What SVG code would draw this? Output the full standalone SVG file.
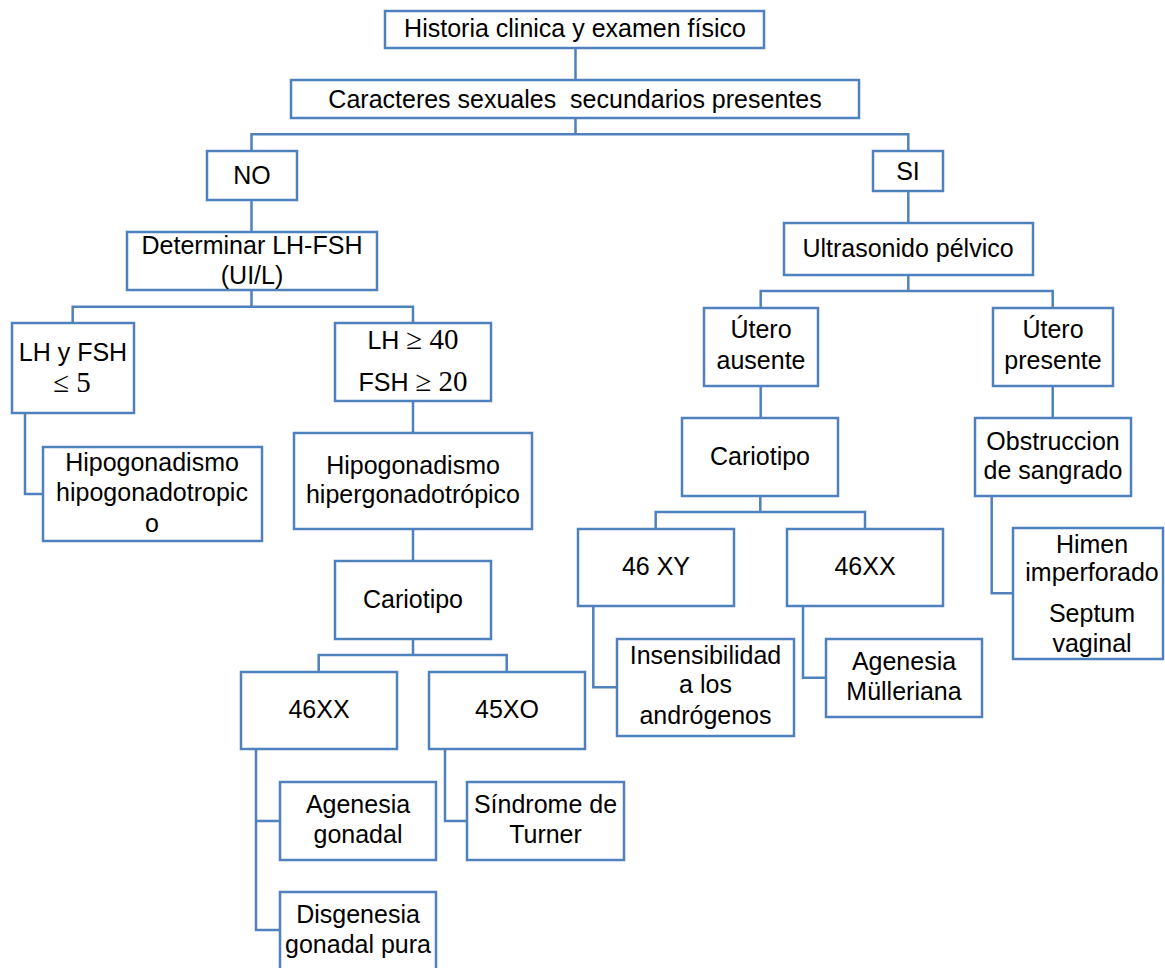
<svg xmlns="http://www.w3.org/2000/svg" width="1165" height="968" viewBox="0 0 1165 968">
<style>
.b{fill:#fff;stroke:#4F81BD;stroke-width:2.5}
.c{fill:none;stroke:#4F81BD;stroke-width:2.5}
.t{font-family:"Liberation Sans",Arial,sans-serif;font-size:25px;fill:#000;text-anchor:middle}
.m{font-family:"Liberation Serif","DejaVu Serif",serif;font-size:29px}
</style>
<rect width="1165" height="968" fill="#fff"/>
<g id="connectors">
<path class="c" d="M575.5 47.7V80"/>
<path class="c" d="M575.5 118.3V134.3M251.5 150.7V134.3H908.3V150.7"/>
<path class="c" d="M251.5 200V231.7"/>
<path class="c" d="M251.5 290V306.7M72.7 322.7V306.7H413V322.7"/>
<path class="c" d="M25 413.3V494H42.7"/>
<path class="c" d="M413 400.7V433.3"/>
<path class="c" d="M413 528.7V561"/>
<path class="c" d="M413 639V655M318.7 671.7V655H506.7V671.7"/>
<path class="c" d="M256 749.3V930H280M256 821H280"/>
<path class="c" d="M445 749.3V821H467.3"/>
<path class="c" d="M908.3 191V223.3"/>
<path class="c" d="M908.3 275V291M760.7 307.7V291H1052.7V307.7"/>
<path class="c" d="M760.7 385.7V418.3"/>
<path class="c" d="M1052.7 385.7V418.3"/>
<path class="c" d="M760.3 495.7V512M655.7 529V512H865V529"/>
<path class="c" d="M593.3 606V687.3H616.7"/>
<path class="c" d="M803 606V677.7H826"/>
<path class="c" d="M991.7 496V593.3H1013.3"/>
</g>
<g id="n-historia"><rect class="b" x="385" y="11" width="379" height="37"/><text class="t" x="575" y="37">Historia clinica y examen físico</text></g>
<g id="n-caracteres"><rect class="b" x="291" y="80" width="568" height="38"/><text class="t" x="575" y="107.5">Caracteres sexuales&#160; secundarios presentes</text></g>
<g id="n-no"><rect class="b" x="207" y="151" width="90" height="49"/><text class="t" x="252" y="184">NO</text></g>
<g id="n-si"><rect class="b" x="873" y="151" width="70" height="40"/><text class="t" x="908" y="179.5">SI</text></g>
<g id="n-determinar"><rect class="b" x="127" y="232" width="250" height="58"/><text class="t" x="252" y="253.5">Determinar LH-FSH</text><text class="t" x="252" y="283.5">(UI/L)</text></g>
<g id="n-lhbajo"><rect class="b" x="12" y="323" width="122" height="90"/><text class="t" x="73" y="361">LH y FSH</text><text class="t" x="72" y="392"><tspan class="m">≤ 5</tspan></text></g>
<g id="n-lhalto"><rect class="b" x="335" y="323" width="156" height="78"/><text class="t" x="413" y="349">LH <tspan class="m">≥ 40</tspan></text><text class="t" x="413" y="390.7">FSH <tspan class="m">≥ 20</tspan></text></g>
<g id="n-hipohipo"><rect class="b" x="43" y="447" width="219" height="94"/><text class="t" x="152" y="470.7">Hipogonadismo</text><text class="t" x="152" y="500.7">hipogonadotropic</text><text class="t" x="152" y="531.7">o</text></g>
<g id="n-hipohiper"><rect class="b" x="294" y="433" width="238" height="96"/><text class="t" x="413" y="474">Hipogonadismo</text><text class="t" x="413" y="503.3">hipergonadotrópico</text></g>
<g id="n-cariotipo1"><rect class="b" x="335" y="561" width="156" height="78"/><text class="t" x="413" y="608.3">Cariotipo</text></g>
<g id="n-46xx1"><rect class="b" x="241" y="672" width="156" height="77"/><text class="t" x="319" y="717.7">46XX</text></g>
<g id="n-45xo"><rect class="b" x="429" y="672" width="156" height="77"/><text class="t" x="507" y="717.7">45XO</text></g>
<g id="n-agenesiagonadal"><rect class="b" x="280" y="782" width="156" height="78"/><text class="t" x="358" y="812.7">Agenesia</text><text class="t" x="358" y="842.7">gonadal</text></g>
<g id="n-disgenesia"><rect class="b" x="280" y="892" width="156" height="90"/><text class="t" x="358" y="923.3">Disgenesia</text><text class="t" x="358" y="952.7">gonadal pura</text></g>
<g id="n-turner"><rect class="b" x="467" y="782" width="157" height="78"/><text class="t" x="545.5" y="812.7">Síndrome de</text><text class="t" x="545.5" y="842.7">Turner</text></g>
<g id="n-ultrasonido"><rect class="b" x="784" y="223" width="249" height="52"/><text class="t" x="908" y="257.3">Ultrasonido pélvico</text></g>
<g id="n-uteroausente"><rect class="b" x="704" y="308" width="114" height="78"/><text class="t" x="761" y="338.3">Útero</text><text class="t" x="761" y="369.3">ausente</text></g>
<g id="n-uteropresente"><rect class="b" x="993" y="308" width="120" height="78"/><text class="t" x="1053" y="338.3">Útero</text><text class="t" x="1053" y="369.3">presente</text></g>
<g id="n-cariotipo2"><rect class="b" x="682" y="418" width="156" height="78"/><text class="t" x="760" y="465">Cariotipo</text></g>
<g id="n-obstruccion"><rect class="b" x="975" y="418" width="156" height="78"/><text class="t" x="1053" y="450">Obstruccion</text><text class="t" x="1053" y="479.3">de sangrado</text></g>
<g id="n-46xy"><rect class="b" x="578" y="529" width="156" height="77"/><text class="t" x="656" y="575">46 XY</text></g>
<g id="n-46xx2"><rect class="b" x="787" y="529" width="156" height="77"/><text class="t" x="865" y="575">46XX</text></g>
<g id="n-insensibilidad"><rect class="b" x="617" y="639" width="177" height="97"/><text class="t" x="705.5" y="664.3">Insensibilidad</text><text class="t" x="705.5" y="693.3">a los</text><text class="t" x="705.5" y="724.3">andrógenos</text></g>
<g id="n-mulleriana"><rect class="b" x="826" y="639" width="156" height="78"/><text class="t" x="904" y="670">Agenesia</text><text class="t" x="904" y="700">Mülleriana</text></g>
<g id="n-himen"><rect class="b" x="1013" y="528" width="150" height="131"/><text class="t" x="1092" y="553">Himen</text><text class="t" x="1092" y="581">imperforado</text><text class="t" x="1092" y="621.7">Septum</text><text class="t" x="1092" y="651.7">vaginal</text></g>
</svg>
